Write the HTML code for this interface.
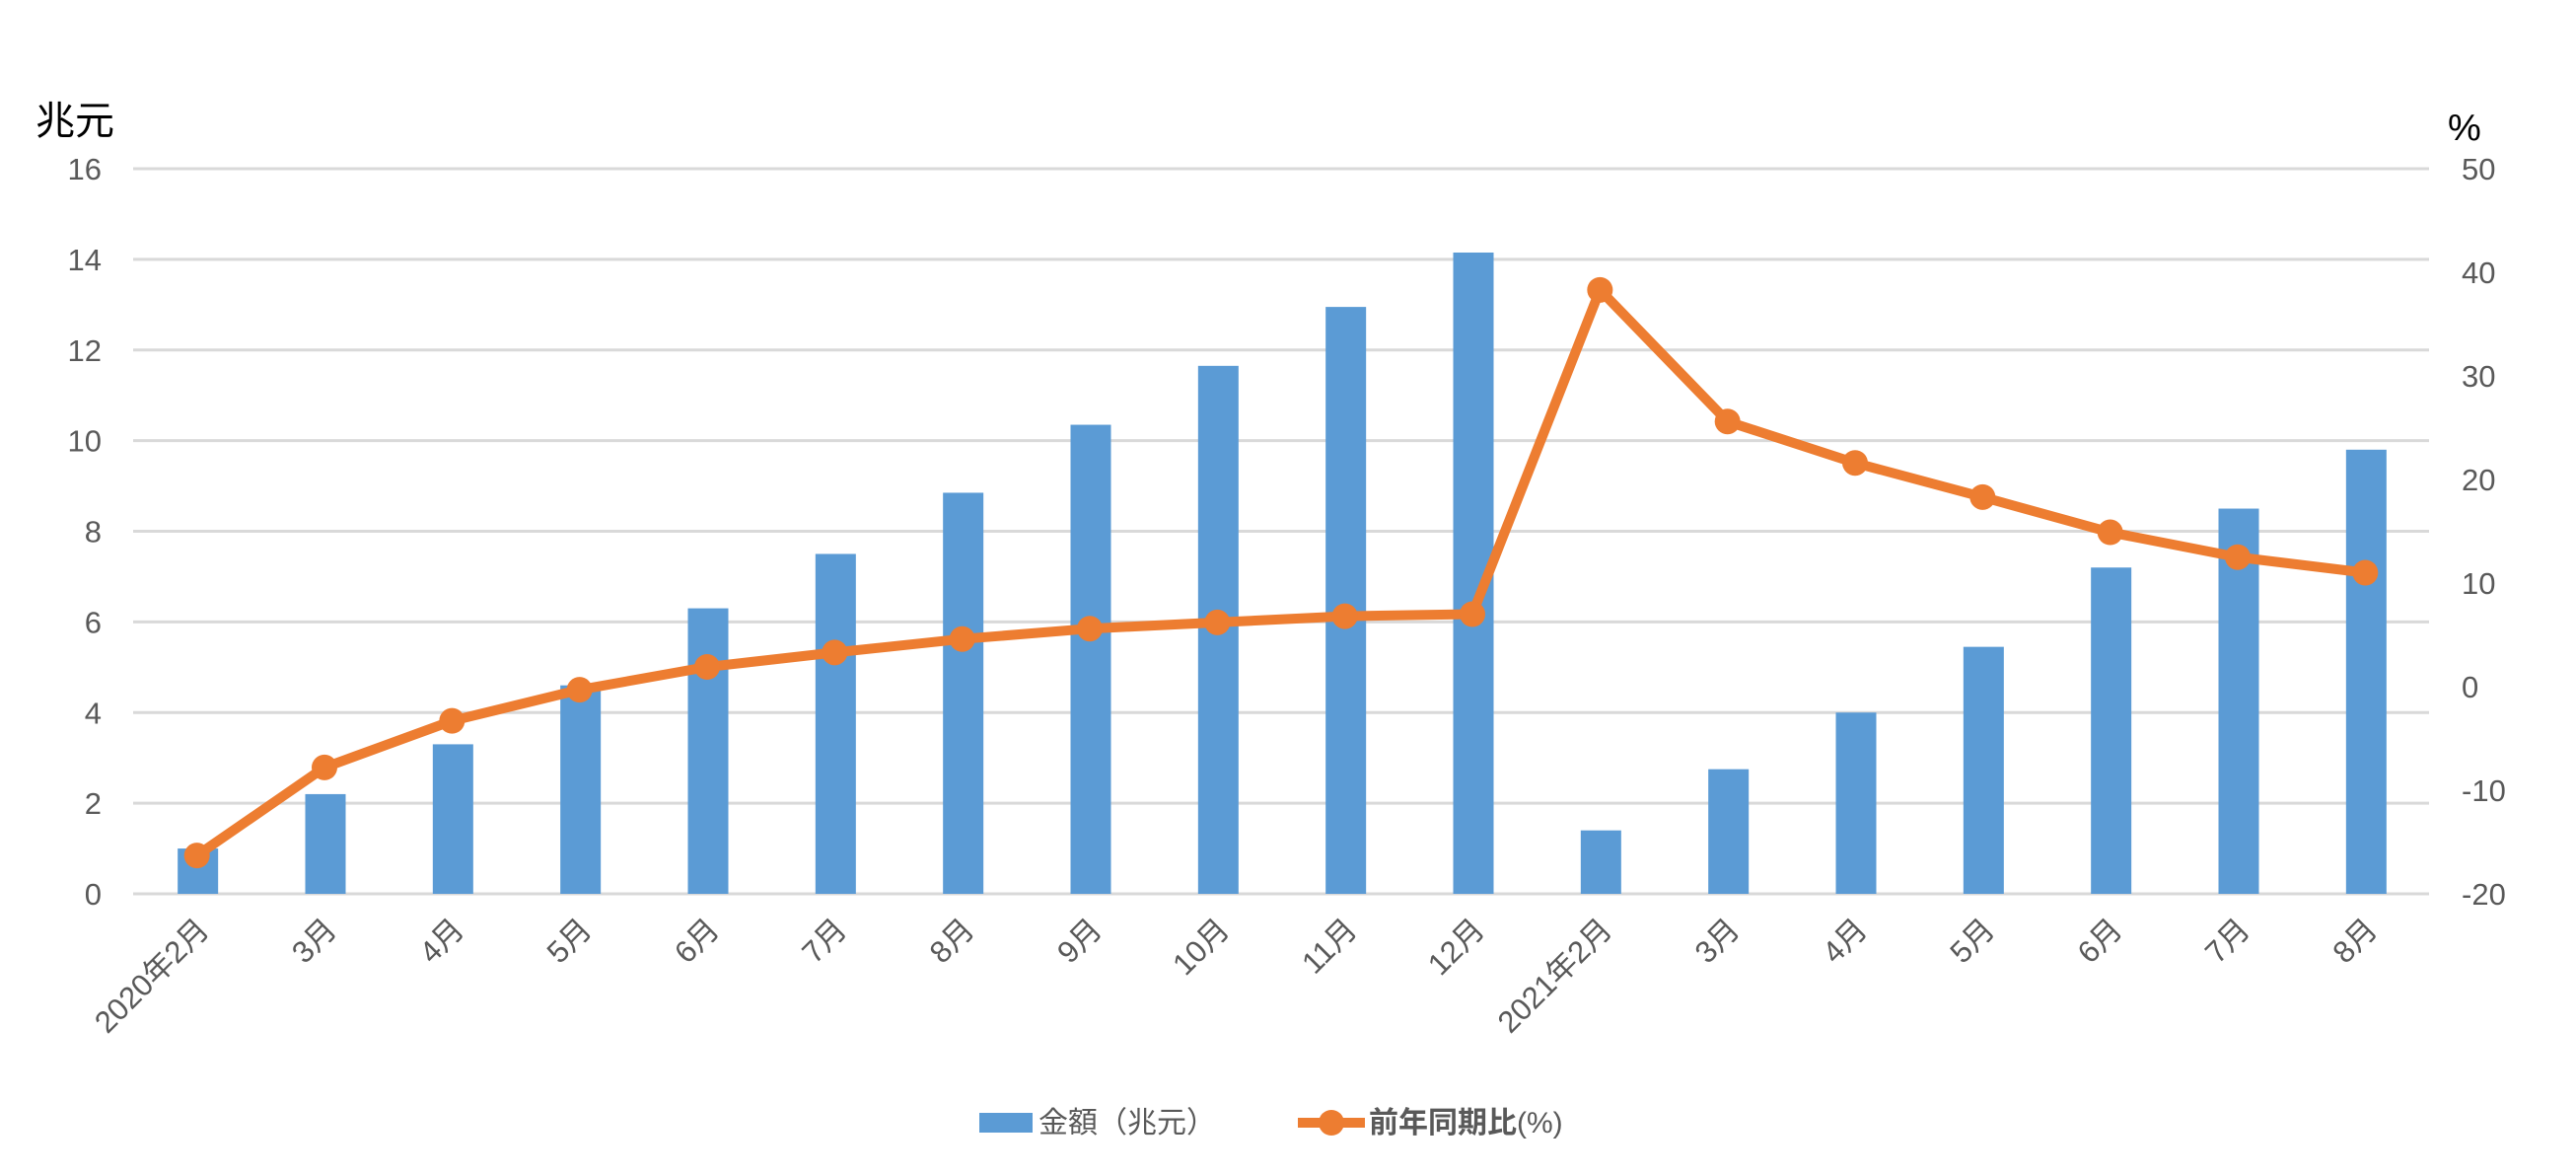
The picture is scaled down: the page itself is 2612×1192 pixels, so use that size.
<!DOCTYPE html>
<html><head><meta charset="utf-8"><style>
body{margin:0;background:#fff;}
svg{display:block;font-family:"Liberation Sans","Noto Sans CJK JP",sans-serif;}
</style></head><body>
<svg id="chart" width="2612" height="1192" viewBox="0 0 2612 1192" xmlns="http://www.w3.org/2000/svg">
<g id="grid"></g>
<g id="bars"></g>
<g id="line"></g>
<g id="yl"></g>
<g id="yr"></g>
<g id="xl"></g>
<text x="36" y="136" font-size="40" fill="#000">兆元</text>
<text x="2482" y="142" font-size="38" fill="#000">%</text>
<g>
<rect x="993" y="1128" width="54" height="20" fill="#5B9BD5"/>
<text x="1053" y="1148" font-size="30" fill="#595959">金額（兆元）</text>
<line x1="1316" y1="1138" x2="1384" y2="1138" stroke="#ED7D31" stroke-width="10"/>
<circle cx="1350" cy="1138" r="13" fill="#ED7D31"/>
<text x="1388" y="1148" font-size="30" fill="#595959" font-weight="bold">前年同期比<tspan font-weight="normal">(%)</tspan></text>
</g>
</svg>
<script>
const categories=["2020年2月","3月","4月","5月","6月","7月","8月","9月","10月","11月","12月","2021年2月","3月","4月","5月","6月","7月","8月"];
const amounts=[1.0,2.2,3.3,4.6,6.3,7.5,8.85,10.35,11.65,12.95,14.15,1.4,2.75,4.0,5.45,7.2,8.5,9.8];
const growth=[-16.3,-7.8,-3.3,-0.3,1.9,3.3,4.6,5.6,6.2,6.8,7.0,38.3,25.6,21.6,18.3,14.9,12.5,11.0];
const leftTicks=[0,2,4,6,8,10,12,14,16];
const rightTicks=[-20,-10,0,10,20,30,40,50];
const NS="http://www.w3.org/2000/svg";
const L=135,R=2463,T=171,B=906;
const band=(R-L)/categories.length;
const xc=i=>L+band*(i+0.5);
const yL=v=>B-(v/16)*(B-T);
const yR=v=>B-((v+20)/70)*(B-T);
function mk(tag,attrs,parent,txt){const e=document.createElementNS(NS,tag);for(const k in attrs)e.setAttribute(k,attrs[k]);if(txt!==undefined)e.textContent=txt;document.getElementById(parent).appendChild(e);return e;}
leftTicks.forEach(t=>{
  const g=mk('line',{x1:L,x2:R,y1:yL(t),y2:yL(t),stroke:'#D9D9D9','stroke-width':3},'grid');
  
  
  const tx=mk('text',{x:103,y:yL(t)+11,'text-anchor':'end','font-size':31,fill:'#595959'},'yl',String(t));
  
  
});
rightTicks.forEach(t=>{
  const tx=mk('text',{x:2496,y:yR(t)+11,'font-size':31,fill:'#595959'},'yr',String(t));
  
  
});
const bw=41;
amounts.forEach((v,i)=>{
  const r=mk('rect',{x:xc(i)-bw/2+1,y:yL(v),width:bw,height:B-yL(v),fill:'#5B9BD5'},'bars');
  
  
});
const pts=growth.map((v,i)=>xc(i)+','+yR(v)).join(' ');
const pl=mk('polyline',{points:pts,fill:'none',stroke:'#ED7D31','stroke-width':10,'stroke-linejoin':'round'},'line');


growth.forEach((v,i)=>{
  const c=mk('circle',{cx:xc(i),cy:yR(v),r:13,fill:'#ED7D31'},'line');
  
  
});
categories.forEach((c,i)=>{
  const x=xc(i)+14,y=944;
  const t=mk('text',{x:x,y:y,'text-anchor':'end','font-size':31,fill:'#595959',transform:`rotate(-45 ${x} ${y})`},'xl',c);
  
  
});
</script>
</body></html>
